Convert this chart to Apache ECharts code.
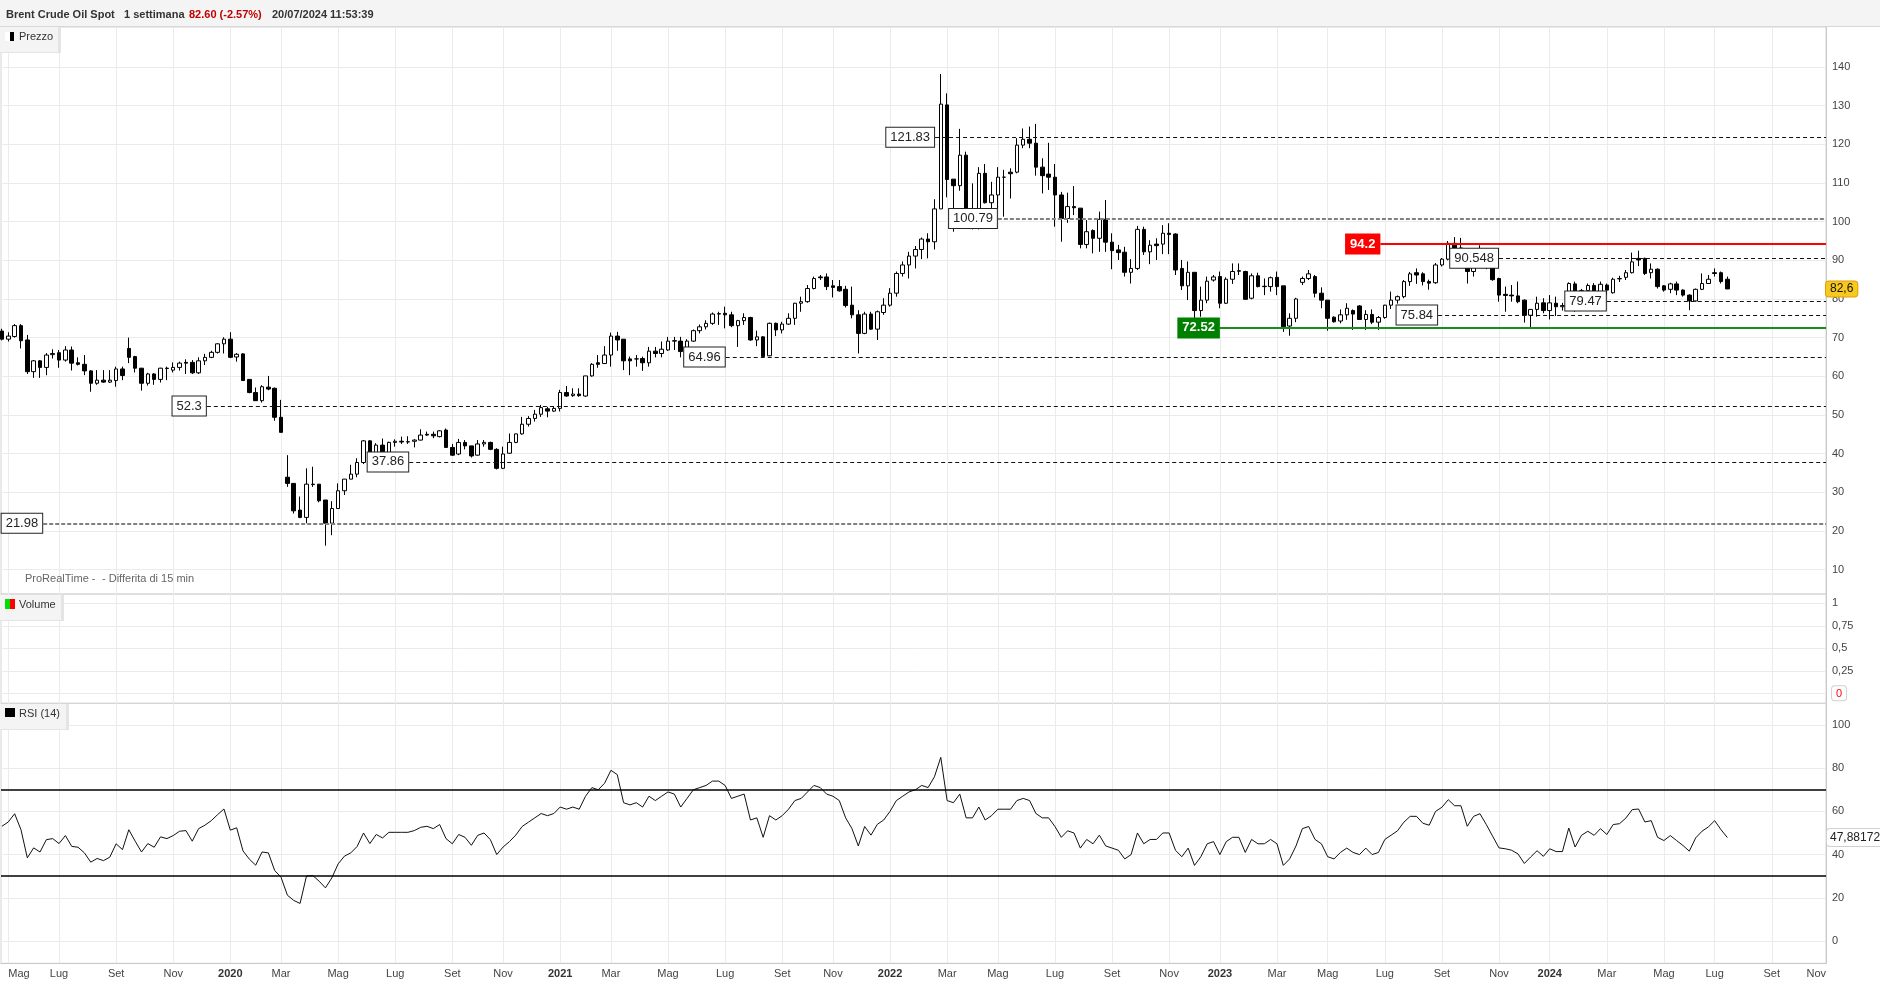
<!DOCTYPE html>
<html><head><meta charset="utf-8">
<script src="https://cdn.jsdelivr.net/npm/echarts@6/dist/echarts.min.js"></script>
<style>html,body{margin:0;padding:0;background:#fff}#c{width:1880px;height:982px}</style>
</head><body><div id="c"></div>
<script>
// ---- DATA (weekly bars, first bar = week of 2019-04-29) ----
const firstWeek = [2019, 3, 29];
const opens = [71.7,69.6,70.3,73.1,69.4,61.2,64.0,62.3,65.6,66.1,64.2,66.8,63.5,63.1,61.4,58.2,59.0,58.5,58.9,61.9,
67.2,65.1,62.1,58.2,60.6,59.2,62.1,61.6,62.3,63.6,63.6,60.9,64.0,64.9,66.2,68.4,69.6,65.0,65.8,59.2,
55.8,53.7,57.2,56.9,49.4,33.9,32.3,25.4,23.5,32.1,32.1,28.0,22.0,25.8,30.4,33.4,34.7,37.7,43.3,40.2,
42.2,40.2,42.9,43.2,43.0,43.2,43.5,45.0,45.0,44.4,46.1,41.6,39.9,42.9,42.0,39.6,42.5,42.9,41.1,36.2,
40.1,42.9,45.1,47.6,49.1,50.2,51.6,51.0,51.7,55.8,55.0,55.4,54.9,60.1,63.5,63.3,65.5,70.4,69.6,64.5,
64.5,64.6,63.5,66.5,65.9,66.8,69.2,69.1,66.4,69.1,71.8,72.8,73.7,76.1,76.3,75.9,73.1,74.4,75.2,69.4,
70.2,65.3,73.7,72.0,73.5,75.0,78.9,79.3,82.7,85.7,85.7,83.4,83.2,82.5,78.4,75.9,71.1,76.1,72.2,76.5,
78.4,81.5,86.6,88.8,91.1,92.8,95.5,94.8,103.3,130.2,111.0,109.3,117.2,103.0,102.0,112.5,104.9,106.9,111.5,112.8,
112.8,119.8,121.3,120.3,114.1,112.3,111.5,106.9,100.8,103.9,103.5,94.1,97.7,95.7,100.6,94.7,92.7,92.1,86.9,87.9,
98.0,92.2,94.2,94.2,97.0,96.8,87.9,83.4,86.9,77.0,79.7,84.9,85.8,78.9,85.1,87.3,87.1,80.2,86.0,83.3,
83.2,85.6,83.4,73.0,75.0,84.3,85.3,85.8,81.5,79.7,75.3,74.3,75.9,77.0,78.2,74.7,76.0,74.0,75.2,78.4,
79.7,80.6,84.5,86.8,86.5,84.5,84.2,88.8,90.3,94.4,93.2,92.6,87.1,91.0,92.2,90.0,85.3,81.2,81.0,80.8,
79.7,75.8,77.3,79.0,77.0,78.9,78.0,78.3,83.9,77.4,82.2,83.5,81.7,83.6,81.6,85.2,85.6,86.8,90.5,90.5,
86.8,87.7,83.4,82.5,83.9,82.3,81.0,79.5,82.5,84.0,86.8,86.8,85.1];
const highs = [72.3,71.4,73.5,73.5,70.7,64.2,64.2,66.0,67.0,66.8,67.8,67.7,64.9,65.5,61.6,61.6,61.6,61.6,62.5,62.5,
70.0,65.3,62.1,60.9,60.8,62.2,62.5,63.6,63.8,64.4,64.2,64.9,65.8,66.6,68.5,70.1,71.4,66.0,66.0,59.2,
57.1,57.7,60.1,57.1,53.9,39.6,32.3,28.9,36.2,36.6,32.1,28.0,27.7,32.3,33.4,37.1,38.8,43.5,43.5,42.7,
43.9,43.1,43.7,44.4,44.5,43.7,46.3,45.7,45.7,46.1,46.5,42.5,43.8,43.5,42.0,43.5,43.5,43.1,41.4,41.8,
45.2,45.2,49.5,49.7,51.3,52.6,52.1,52.3,56.5,57.5,56.9,56.9,60.1,63.4,65.5,67.8,71.3,71.5,69.6,65.1,
65.5,65.1,67.6,67.6,69.0,70.2,70.2,70.2,69.6,72.1,73.4,74.5,76.5,76.7,78.0,76.7,74.6,76.3,75.4,71.8,
70.4,73.9,73.9,74.1,76.3,79.0,80.6,83.6,85.8,86.2,86.6,84.9,84.9,83.4,83.2,77.1,76.7,76.7,77.0,80.2,
82.8,87.1,89.7,92.2,93.7,95.9,97.0,105.8,138.2,133.2,111.0,124.0,118.1,109.9,114.1,114.9,110.3,114.1,113.4,113.8,
121.6,124.1,124.6,125.3,116.4,120.4,114.9,107.7,107.5,109.2,103.5,100.4,98.0,102.6,105.6,97.0,94.0,93.5,90.3,98.9,
98.7,95.2,95.7,99.1,99.6,97.0,90.1,89.7,86.9,83.2,85.8,86.2,87.1,85.6,89.2,89.2,87.3,86.6,86.8,85.3,
85.8,87.1,83.4,76.3,80.3,85.8,87.5,86.2,83.0,79.7,75.5,77.3,78.9,77.3,78.4,77.1,77.3,75.6,78.5,81.9,
80.9,84.9,87.0,87.9,86.9,85.0,89.3,90.6,95.0,96.0,95.8,92.8,91.5,93.9,93.0,90.5,85.5,83.2,83.6,84.5,
79.9,77.3,80.6,80.2,81.0,80.6,79.0,84.3,84.5,82.6,84.0,84.1,84.5,84.0,85.5,86.0,87.5,92.0,92.5,90.7,
89.2,87.9,83.6,84.2,84.5,82.5,81.2,82.7,86.6,86.2,87.9,87.1,85.8];
const lows = [69.3,69.0,70.0,67.2,60.6,59.6,59.6,60.3,64.6,62.2,63.8,61.5,62.8,60.3,56.0,57.8,58.3,58.3,57.3,59.0,
63.4,61.0,56.3,57.6,57.8,58.4,59.0,61.0,61.5,60.6,60.6,60.6,62.9,64.7,65.9,65.9,64.7,63.8,58.8,55.6,
53.6,53.2,56.4,48.5,45.5,31.4,24.5,23.3,22.0,31.4,27.4,16.2,18.9,25.8,29.3,33.4,33.9,37.3,40.1,39.9,
40.1,40.1,41.8,42.5,42.5,41.6,43.4,44.6,44.0,44.2,41.6,39.4,39.6,41.1,39.0,39.5,41.8,40.9,35.9,36.0,
40.0,42.7,44.9,47.0,48.3,49.5,49.4,50.8,50.9,54.7,54.7,54.7,54.7,59.9,62.2,63.2,62.5,66.6,61.6,60.3,
62.5,61.4,62.5,64.9,64.9,66.6,66.8,64.9,66.2,68.9,71.1,72.1,73.3,73.3,72.4,72.7,67.6,73.3,69.2,67.8,
64.9,65.2,70.4,71.1,73.3,73.3,76.7,79.0,82.5,84.9,82.3,80.4,81.9,77.8,75.0,65.9,70.9,72.0,69.4,75.9,
78.0,80.6,85.8,85.3,87.9,90.3,90.5,92.8,103.3,106.3,97.4,108.0,99.0,98.0,98.0,104.7,103.4,103.4,101.3,106.0,
112.5,119.0,119.0,111.9,107.3,108.2,98.7,94.8,99.7,101.7,93.1,93.1,91.8,92.2,92.2,87.7,90.1,85.8,84.0,87.5,
91.4,89.0,90.1,91.6,91.6,86.2,82.3,79.7,74.1,75.4,78.9,84.5,77.6,78.7,83.9,86.2,79.9,79.9,83.0,81.0,
81.9,81.0,71.5,70.5,74.0,83.6,84.9,80.4,77.6,71.8,73.9,73.7,74.6,72.0,74.6,72.0,73.5,72.0,74.9,77.4,
78.8,80.2,83.4,83.9,83.5,82.4,83.9,88.4,90.0,92.3,91.5,84.0,85.8,89.6,87.7,84.7,79.3,76.7,79.3,78.9,
73.9,72.7,75.4,76.3,74.7,75.6,77.0,77.9,76.7,76.9,80.8,81.0,80.9,81.1,81.4,84.4,84.9,86.6,88.5,86.2,
85.3,82.7,81.9,81.5,81.0,80.6,77.1,79.3,82.3,83.9,85.8,84.0,82.6];
const closes = [69.6,70.4,73.1,69.2,61.2,64.0,62.3,65.5,65.9,64.2,66.8,63.4,63.1,61.4,58.2,59.0,58.5,59.0,61.9,60.2,
64.9,62.1,58.2,60.6,59.2,62.1,62.0,62.3,63.4,63.4,60.9,64.0,64.9,66.2,68.4,69.6,64.9,65.7,58.9,55.8,
53.7,57.3,56.7,49.4,45.5,32.3,25.2,23.5,32.1,32.0,27.8,22.0,25.8,30.4,33.4,34.7,37.7,43.3,40.2,42.2,
40.2,42.9,43.2,43.0,43.1,43.5,44.8,44.8,44.6,45.9,41.6,39.6,42.9,42.0,39.4,42.5,42.9,41.1,36.2,39.9,
42.9,45.1,47.6,49.1,50.2,51.9,51.0,51.7,55.8,54.9,55.4,55.0,60.1,63.1,63.1,65.5,70.4,69.4,64.0,64.0,
64.5,63.5,66.5,65.9,67.0,69.1,69.1,66.4,69.1,71.8,72.8,73.7,76.1,76.2,75.9,73.1,74.4,75.2,69.4,70.2,
65.1,73.7,72.0,73.5,75.0,78.9,79.3,82.7,85.3,85.5,83.2,83.0,82.1,78.3,75.9,71.1,76.1,72.2,76.7,78.4,
81.5,86.6,88.8,91.1,92.8,95.5,94.8,103.3,130.4,110.9,109.3,117.2,103.4,102.0,112.5,104.9,106.9,111.5,111.5,112.4,
119.8,121.3,120.3,114.1,111.9,111.5,106.9,100.8,103.9,103.6,94.1,97.4,95.7,100.6,94.7,92.5,92.0,86.9,87.9,98.0,
92.2,93.9,93.8,97.0,96.7,87.5,83.4,86.9,77.0,79.7,84.6,85.7,78.9,85.1,87.1,87.2,79.9,86.0,83.2,83.2,
85.5,83.2,72.8,75.0,80.0,85.3,86.5,81.5,79.7,75.0,74.1,75.9,77.6,76.1,74.7,76.0,74.0,75.2,78.4,79.7,
80.6,84.5,86.5,86.2,84.5,84.1,88.8,90.3,94.4,93.2,92.6,87.1,91.0,92.2,90.0,85.0,81.0,80.9,80.8,79.3,
75.8,77.3,78.9,77.0,79.0,78.0,78.3,84.0,77.4,82.2,83.5,81.6,83.8,82.3,85.1,85.3,86.8,89.6,90.1,86.6,
87.7,83.2,82.3,83.9,82.3,81.0,79.5,82.5,84.0,85.1,86.6,84.5,82.6];
const rsi14 = [53.1,55.1,58.9,51.5,38.5,43.1,41.2,46.9,47.4,45.1,48.8,43.8,43.4,40.8,36.5,38.2,37.2,38.8,45.0,42.3,
51.5,46.2,41.2,45.1,43.4,48.2,47.4,48.8,50.8,51.1,46.2,52.0,53.6,55.7,58.5,61.1,51.3,52.4,41.7,37.9,
35.1,41.2,40.8,32.6,29.5,21.2,18.8,17.4,30.0,30.3,27.7,24.6,29.2,35.7,39.3,40.8,43.8,50.0,45.1,49.3,
47.7,50.3,50.3,50.3,50.3,51.1,52.6,53.1,52.0,53.9,47.4,45.0,49.3,48.0,44.3,48.9,50.0,46.9,40.0,43.5,
46,49,53,55,57,59,58,59,62,61,62,61,67,71,70,73,79,77,64,63,
64,62,67,65,67,69,68,62,66,70,71,72,74,74,72,66,67,68,56,57,
48,58,56,58,61,65,66,69,72,71,68,67,65,57,52,44,53,49,54,56,
60,65,67,69,70,72,71,76,85,65,64,68,57,57,62,56,58,61,61,61,
65,66,65,59,57,57,53,48,51,50,43,47,45,49,44,43,42,38,40,50,
45,47,47,50,50,42,39,43,35,39,45,46,40,46,48,48,41,47,45,45,
47,45,35,38,44,52,53,47,45,39,38,41,43,41,40,43,40,41,47,49,
51,55,57.7,57.7,54.5,53.6,60,61.9,65.4,62.6,62.6,53.1,57.7,58.9,53.9,48.5,43.1,42.7,42.0,40.3,
35.9,38.9,41.8,39.2,42.7,41.4,41.4,52.3,43.5,48.9,50.8,48.9,52.0,49.3,53.9,54.3,56.9,60.8,61.1,55.1,
55.7,48.0,46.5,48.8,46.5,44.2,41.6,47.7,50.8,52.8,55.7,51.5,47.88172];
// horizontal levels drawn on the chart and the bar index where each one starts
const levelValues = [121.83, 100.79, 90.548, 79.47, 75.84, 64.96, 52.3, 37.86, 21.98];
const levelFromBar = [147.1, 157.0, 236.0, 253.0, 226.4, 114.1, 32.3, 64.2, 6.5];
const resistance = 94.2, resistanceFromBar = 217.3;
const support = 72.52, supportFromBar = 192.0;
const priceTicks = [10,20,30,40,50,60,70,80,90,100,110,120,130,140];
const volumeTicks = [0,0.25,0.5,0.75,1];
const rsiTicks = [0,20,40,60,80,100];
const monthNames = ['Gen','Feb','Mar','Apr','Mag','Giu','Lug','Ago','Set','Ott','Nov','Dic'];

// ---- BUILD ----
const FONT = '"Liberation Sans", Arial, sans-serif';
const X_MIN = -0.15, X_MAX = 287.55;
const t0 = Date.UTC(firstWeek[0], firstWeek[1], firstWeek[2]);
const xTicks = []; const xTickText = {};
let prevM = null;
for (let i = 0; i <= 292; i++) {
  const d = new Date(t0 + i * 7 * 86400000);
  const m = d.getUTCMonth();
  if (prevM !== null && m !== prevM && m % 2 === 0) {
    const v = Math.min(i, X_MAX);
    xTicks.push(v);
    xTickText[v] = m === 0 ? '{y|' + d.getUTCFullYear() + '}' : monthNames[m];
  }
  prevM = m;
}
const candleData = opens.map((o, i) => [i, o, closes[i], lows[i], highs[i]]);
const rsiData = rsi14.map((v, i) => [i, v]);
const last = closes.length - 1;
const lastRsi = rsi14[rsi14.length - 1];

const dashedBlack = {color: '#111', width: 1, type: [4, 3]};
const dashedGray = {color: '#808080', width: 2, type: [4, 2]};
const hidden = {color: 'rgba(0,0,0,0)', width: 1, type: 'solid'};
const boxLabel = {show: true, position: 'start', distance: 1, backgroundColor: '#fff', borderColor: '#222',
  borderWidth: 1, padding: [3, 4, 3, 4], color: '#222', fontSize: 13, fontFamily: FONT};
const levelLines = levelValues.map((v, k) => {
  const gray = (v === 100.79 || v === 21.98);
  return [
    {coord: [levelFromBar[k], v], lineStyle: gray ? dashedGray : dashedBlack,
     label: Object.assign({}, boxLabel, {formatter: String(v)})},
    {coord: [X_MAX, v]}
  ];
});
levelLines.push([
  {coord: [resistanceFromBar, resistance], lineStyle: {color: '#ff0000', width: 2, type: 'solid'},
   label: Object.assign({}, boxLabel, {formatter: String(resistance), backgroundColor: '#ff0000', borderColor: '#ff0000', color: '#fff', fontWeight: 'bold'})},
  {coord: [X_MAX, resistance]}
]);
levelLines.push([
  {coord: [supportFromBar, support], lineStyle: {color: '#1f8a1f', width: 2, type: 'solid'},
   label: Object.assign({}, boxLabel, {formatter: String(support), backgroundColor: '#008000', borderColor: '#008000', color: '#fff', fontWeight: 'bold'})},
  {coord: [X_MAX, support]}
]);
levelLines.push({
  yAxis: closes[last], lineStyle: hidden,
  label: {show: true, position: 'end', distance: 0, formatter: String(closes[last]).replace('.', ','),
    backgroundColor: '#f9c81e', borderColor: '#dca200', borderWidth: 1, borderRadius: 3, padding: [2, 4, 1, 4],
    color: '#111', fontSize: 12, fontFamily: FONT}
});

const gridLineColor = '#ebebeb';
function xAxisFor(gi, showLabels) {
  return {
    type: 'value', gridIndex: gi, min: X_MIN, max: X_MAX,
    axisLine: {show: showLabels, onZero: false, lineStyle: {color: '#c8c8c8'}},
    axisTick: {show: false, customValues: xTicks},
    axisLabel: {show: showLabels, customValues: xTicks, formatter: v => xTickText[v] || '',
      color: '#444', fontSize: 11, fontFamily: FONT, margin: 5, alignMinLabel: 'left', alignMaxLabel: 'right',
      rich: {y: {fontWeight: 'bold', color: '#333', fontSize: 11, fontFamily: FONT}}},
    splitLine: {show: true, lineStyle: {color: gridLineColor, width: 1}}
  };
}
function yAxisFor(gi, min, max, ticks, fmt) {
  return {
    type: 'value', gridIndex: gi, position: 'right', min: min, max: max,
    axisLine: {show: true, onZero: false, lineStyle: {color: '#c8c8c8'}},
    axisTick: {show: false, customValues: ticks},
    axisLabel: {show: true, customValues: ticks, formatter: fmt, color: '#444', fontSize: 11, fontFamily: FONT, margin: 6,
      rich: {z: {color: '#ff0000', backgroundColor: '#fff', borderColor: '#d0d0d0', borderWidth: 1, borderRadius: 3,
        padding: [2, 4, 1, 4], fontSize: 11, fontFamily: FONT}}},
    splitLine: {show: true, lineStyle: {color: gridLineColor, width: 1}}
  };
}

const txt = (x, y, text, extra) => ({type: 'text', x: x, y: y, z: 100,
  style: Object.assign({text: text, fill: '#333', font: '11px ' + FONT, verticalAlign: 'middle'}, extra || {})});
const rect = (x, y, w, h, fill) => ({type: 'rect', z: 99, shape: {x: x, y: y, width: w, height: h}, style: {fill: fill}});
const panelBox = (y, w) => [rect(0, y, w, 25, '#f4f4f4'), rect(w, y, 3, 26, '#e4e4e4'), rect(0, y + 25, w, 1, '#e4e4e4')];

const option = {
  animation: false,
  backgroundColor: '#fff',
  grid: [
    {left: 1, right: 54, top: 27, height: 567, show: true, borderColor: '#d4d4d4', borderWidth: 1},
    {left: 1, right: 54, top: 594, height: 109.3, show: true, borderColor: '#d4d4d4', borderWidth: 1},
    {left: 1, right: 54, top: 703.3, height: 260, show: true, borderColor: '#d4d4d4', borderWidth: 1}
  ],
  xAxis: [xAxisFor(0, false), xAxisFor(1, false), xAxisFor(2, true)],
  yAxis: [
    yAxisFor(0, 3.69, 150.35, priceTicks, v => String(v)),
    yAxisFor(1, -0.111, 1.103, volumeTicks, v => v === 0 ? '{z|0}' : String(v).replace('.', ',')),
    yAxisFor(2, -10.3, 110, rsiTicks, v => String(v))
  ],
  series: [
    {
      name: 'Prezzo', type: 'candlestick', xAxisIndex: 0, yAxisIndex: 0, data: candleData,
      encode: {x: 0, y: [1, 2, 3, 4]}, barWidth: 4,
      itemStyle: {color: '#ffffff', color0: '#000000', borderColor: '#000000', borderColor0: '#000000', borderWidth: 1},
      markLine: {silent: true, symbol: ['none', 'none'], animation: false, data: levelLines}
    },
    {name: 'Volume', type: 'bar', xAxisIndex: 1, yAxisIndex: 1, data: []},
    {
      name: 'RSI (14)', type: 'line', xAxisIndex: 2, yAxisIndex: 2, data: rsiData, showSymbol: false, symbol: 'none',
      lineStyle: {color: '#111', width: 1}, z: 3,
      markLine: {silent: true, symbol: ['none', 'none'], animation: false, data: [
        {yAxis: 70, lineStyle: {color: '#000', width: 1.5, type: 'solid'}, label: {show: false}},
        {yAxis: 30, lineStyle: {color: '#000', width: 1.5, type: 'solid'}, label: {show: false}},
        {yAxis: lastRsi, lineStyle: hidden,
         label: {show: true, position: 'end', distance: 1, formatter: String(lastRsi).replace('.', ','),
           backgroundColor: '#fff', borderColor: '#d0d0d0', borderWidth: 1, borderRadius: 3, padding: [3, 3, 2, 3],
           color: '#222', fontSize: 12, fontFamily: FONT}}
      ]}
    }
  ],
  graphic: [
    rect(0, 0, 1880, 26, '#f4f4f4'), rect(0, 26, 1880, 1, '#d8d8d8'),
    txt(6, 15, 'Brent Crude Oil Spot', {font: 'bold 11px ' + FONT}),
    txt(124, 15, '1 settimana', {font: 'bold 11px ' + FONT}),
    txt(189, 15, '82.60 (-2.57%)', {font: 'bold 11px ' + FONT, fill: '#c00000'}),
    txt(272, 15, '20/07/2024 11:53:39', {font: 'bold 11px ' + FONT}),
    ...panelBox(27, 58), rect(5, 32, 5, 9, '#ffffff'), rect(10, 32, 4, 9, '#000'), txt(19, 37, 'Prezzo'),
    ...panelBox(595, 61), rect(5, 599, 5, 10, '#00dd00'), rect(10, 599, 5, 10, '#ff0000'), txt(19, 605, 'Volume'),
    ...panelBox(704, 66), rect(5, 708, 10, 9, '#000'), txt(19, 714, 'RSI (14)'),
    txt(25, 579, 'ProRealTime -', {fill: '#666'}),
    txt(102, 579, '- Differita di 15 min', {fill: '#666'})
  ]
};
const chart = echarts.init(document.getElementById('c'));
chart.setOption(option);
</script></body></html>
